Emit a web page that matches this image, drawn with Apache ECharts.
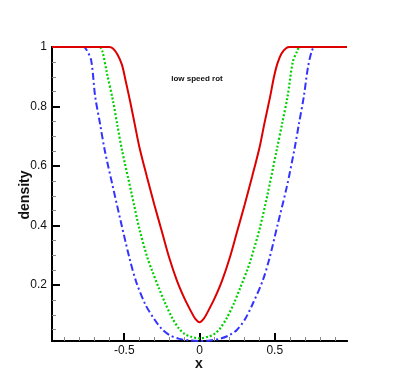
<!DOCTYPE html>
<html>
<head>
<meta charset="utf-8">
<script src="https://cdn.jsdelivr.net/npm/echarts@6/dist/echarts.min.js"></script>
<style>
  html, body { margin: 0; padding: 0; background: #fff; }
  #myCharts { width: 395px; height: 385px; }
</style>
</head>
<body>
<div id="myCharts"></div>
<script>
// curves
const redX = [-0.98, -0.6, -0.575, -0.545, -0.515, -0.49, -0.46, -0.43, -0.4, -0.35, -0.3, -0.25, -0.2, -0.15, -0.1, -0.06, -0.03, 0,
  0.03, 0.06, 0.1, 0.15, 0.2, 0.25, 0.3, 0.35, 0.4, 0.43, 0.47, 0.495, 0.518, 0.545, 0.575, 0.6, 0.98];
const redY = [1, 1, 0.995, 0.975, 0.94, 0.885, 0.815, 0.74, 0.665, 0.565, 0.47, 0.38, 0.29, 0.215, 0.155, 0.115, 0.088, 0.075,
  0.088, 0.115, 0.155, 0.215, 0.29, 0.38, 0.47, 0.565, 0.665, 0.74, 0.835, 0.9, 0.945, 0.978, 0.996, 1, 1];

const greenX = [-0.98, -0.665, -0.645, -0.615, -0.575, -0.545, -0.515, -0.45, -0.4, -0.345, -0.316, -0.27, -0.227, -0.18, -0.138, -0.1, -0.06, 0,
  0.06, 0.1, 0.138, 0.18, 0.23, 0.27, 0.322, 0.34, 0.4, 0.45, 0.513, 0.55, 0.585, 0.62, 0.648, 0.667, 0.98];
const greenY = [1, 1, 0.985, 0.912, 0.82, 0.735, 0.654, 0.505, 0.39, 0.29, 0.25, 0.19, 0.138, 0.088, 0.055, 0.036, 0.027, 0.021,
  0.027, 0.036, 0.055, 0.088, 0.14, 0.19, 0.257, 0.284, 0.39, 0.5, 0.654, 0.745, 0.833, 0.95, 0.985, 1, 1];

const blueX = [-0.98, -0.77, -0.75, -0.72, -0.693, -0.66, -0.63, -0.58, -0.52, -0.465, -0.42, -0.36, -0.3, -0.25, -0.2, -0.14, -0.07, 0,
  0.07, 0.14, 0.2, 0.25, 0.3, 0.35, 0.42, 0.465, 0.52, 0.58, 0.63, 0.66, 0.693, 0.72, 0.745, 0.765, 0.98];
const blueY = [1, 1, 0.99, 0.956, 0.833, 0.74, 0.654, 0.54, 0.407, 0.29, 0.21, 0.135, 0.085, 0.052, 0.032, 0.02, 0.014, 0.012,
  0.014, 0.02, 0.032, 0.05, 0.083, 0.133, 0.215, 0.29, 0.405, 0.53, 0.654, 0.74, 0.833, 0.93, 0.985, 1, 1];

// axis ticks
const xMajor = [-0.5, 0, 0.5];
const xMinor = [-0.9, -0.8, -0.7, -0.6, -0.4, -0.3, -0.2, -0.1, 0.1, 0.2, 0.3, 0.4, 0.6, 0.7, 0.8, 0.9];
const yMajor = [0.2, 0.4, 0.6, 0.8, 1];
const yMinor = [0.05, 0.1, 0.15, 0.25, 0.3, 0.35, 0.45, 0.5, 0.55, 0.65, 0.7, 0.75, 0.85, 0.9, 0.95];

const xMin = -0.98, xMax = 0.98, yMin = 0.012, yMax = 1;

function pairs(xs, ys) {
  return xs.map((x, i) => [x, ys[i]]);
}

const font = 'Liberation Sans, Arial, sans-serif';
const box = { left: 52, right: 48, top: 47, bottom: 44 };

let option = {
  animation: false,
  // grid 1 only carries the minor ticks
  grid: [box, box],
  graphic: [{
    type: 'text', x: 197, y: 79,
    style: { text: 'low speed rot', fontSize: 8, fontWeight: 'bold', fill: '#111', fontFamily: font, align: 'center', verticalAlign: 'middle' }
  }, {
    type: 'text', x: 199, y: 364,
    style: { text: 'x', fontSize: 14, fontWeight: 'bold', fill: '#111', fontFamily: font, align: 'center', verticalAlign: 'middle' }
  }, {
    type: 'text', x: 25, y: 195, rotation: Math.PI / 2,
    style: { text: 'density', fontSize: 14, fontWeight: 'bold', fill: '#111', fontFamily: font, align: 'center', verticalAlign: 'middle' }
  }],
  xAxis: [{
    type: 'value', min: xMin, max: xMax, gridIndex: 0,
    axisLine: { show: true, onZero: false, lineStyle: { color: '#000', width: 2 } },
    axisTick: { show: true, inside: true, length: 8, customValues: xMajor, lineStyle: { color: '#000', width: 2 } },
    axisLabel: { customValues: xMajor, margin: 4, color: '#111', fontSize: 12, fontFamily: font },
    splitLine: { show: false }
  }, {
    type: 'value', min: xMin, max: xMax, gridIndex: 1,
    axisLine: { show: true, onZero: false, lineStyle: { color: '#000', width: 2 } },
    axisTick: { show: true, inside: true, length: 4, customValues: xMinor, lineStyle: { color: '#888', width: 1 } },
    axisLabel: { show: false },
    splitLine: { show: false }
  }],
  yAxis: [{
    type: 'value', min: yMin, max: yMax, gridIndex: 0,
    axisLine: { show: true, onZero: false, lineStyle: { color: '#000', width: 2 } },
    axisTick: { show: true, inside: true, length: 8, customValues: yMajor, lineStyle: { color: '#000', width: 2 } },
    axisLabel: { customValues: yMajor, margin: 5, color: '#111', fontSize: 12, fontFamily: font },
    splitLine: { show: false }
  }, {
    type: 'value', min: yMin, max: yMax, gridIndex: 1,
    axisLine: { show: true, onZero: false, lineStyle: { color: '#000', width: 2 } },
    axisTick: { show: true, inside: true, length: 4, customValues: yMinor, lineStyle: { color: '#888', width: 1 } },
    axisLabel: { show: false },
    splitLine: { show: false }
  }],
  series: [{
    type: 'line', symbol: 'none', smooth: 0.3,
    data: pairs(blueX, blueY),
    lineStyle: { color: '#3333ff', width: 2, type: [7, 3, 2, 3] }
  }, {
    type: 'line', symbol: 'none', smooth: 0.3,
    data: pairs(greenX, greenY),
    lineStyle: { color: '#00d000', width: 2.2, type: [2, 2] }
  }, {
    type: 'line', symbol: 'none', smooth: 0.3,
    data: pairs(redX, redY),
    lineStyle: { color: '#dd0000', width: 2 }
  }]
};

var myChart = echarts.init(document.getElementById('myCharts'));
myChart.setOption(option);
</script>
</body>
</html>
